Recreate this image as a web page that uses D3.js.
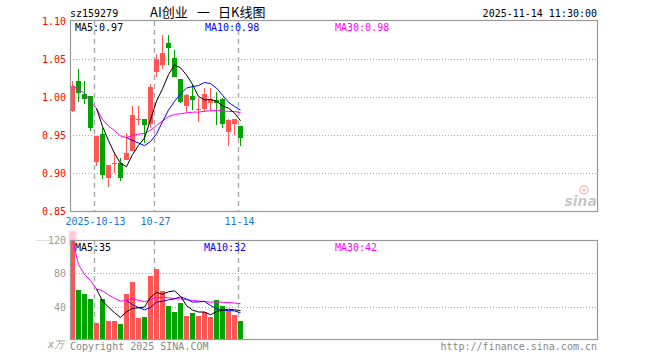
<!DOCTYPE html>
<html><head><meta charset="utf-8">
<script src="https://cdn.jsdelivr.net/npm/d3@7"></script>
<style>
html,body{margin:0;padding:0;background:#fff;}
svg{display:block;}
text{font-family:"DejaVu Sans Mono","Liberation Mono",monospace;font-size:10px;}
</style></head>
<body><svg id="c" width="660" height="360"></svg>
<script>
// ---- data ----
const dates = ["09-29","09-30","10-09","10-10","10-13","10-14","10-15","10-16","10-17","10-20",
  "10-21","10-22","10-23","10-24","10-27","10-28","10-29","10-30","10-31","11-03",
  "11-04","11-05","11-06","11-07","11-10","11-11","11-12","11-13","11-14"];
const openP  = [0.982,1.021,1.004,1.002,0.915,0.952,0.894,0.912,0.914,0.918,0.930,0.970,0.971,0.965,1.033,1.042,1.071,1.051,1.024,0.989,1.002,0.983,0.985,0.992,0.996,0.997,0.954,0.965,0.962];
const highP  = [1.021,1.037,1.021,1.002,0.949,0.959,0.911,0.928,0.920,0.953,0.989,0.989,0.971,1.017,1.057,1.082,1.081,1.062,1.024,1.004,1.017,0.999,1.012,1.012,1.007,0.999,0.972,0.972,0.962];
const lowP   = [0.980,0.994,0.991,0.955,0.910,0.893,0.882,0.900,0.890,0.918,0.930,0.964,0.940,0.959,1.026,1.037,1.042,1.026,0.993,0.979,0.983,0.967,0.981,0.982,0.963,0.960,0.936,0.950,0.936];
const closeP = [1.015,1.005,0.997,0.960,0.949,0.898,0.911,0.914,0.894,0.927,0.977,0.971,0.963,1.013,1.050,1.058,1.064,1.027,0.994,1.003,0.996,0.985,1.004,0.997,0.992,0.965,0.970,0.972,0.947];
const volume = [121,60,55.2,49.2,20.4,49.2,22.8,22.8,19.2,55.2,69.6,26.4,27.6,76.8,85.2,58.8,40.8,33.6,44.4,28.8,32.4,28.8,33.6,27.6,48,40.8,34.8,30,22.8];
const priceTicks = [1.10,1.05,1.00,0.95,0.90,0.85];
const volTicks = [120,80,40];
const dateTicks = ["10-13","10-27","11-14"];
const dateTickLabels = ["2025-10-13","10-27","11-14"];
const code = "sz159279";
const titleParts = ["AI创业", "一", "日K线图"];
const stamp = "2025-11-14 11:30:00";
const priceLegend = ["MA5:0.97","MA10:0.98","MA30:0.98"];
const volLegend = ["MA5:35","MA10:32","MA30:42"];
const volUnit = "x万";

// ---- helpers ----
function ma(arr, n){ return arr.map((d,i)=> i < n-1 ? null : d3.mean(arr.slice(i-n+1,i+1))); }
function cma(arr, n){ return arr.map((d,i)=> d3.mean(arr.slice(Math.max(0,i-n+1),i+1))); }

const svg = d3.select("#c");
const L = 70, R = 597;
const RED = "#ff5555", GREEN = "#00a400", GRID = "#a8a8a8", FRAME = "#999";
const MAC = ["#000","#0000ff","#ff00ff"];

const x = d3.scaleLinear().domain([0, 1]).range([72.5, 78.5]); // candle center per index
const idx = d => dates.indexOf(d);

const yP = d3.scaleLinear().domain([0.85, 1.10]).range([211.5, 21]);
const yV = d3.scaleLinear().domain([0, 120]).range([340, 240]);

svg.append("defs").html(`
 <clipPath id="cp1"><rect x="${L}" y="21" width="${R-L}" height="191"/></clipPath>
 <clipPath id="cp2"><rect x="${L}" y="240" width="${R-L}" height="100"/></clipPath>
 <filter id="bl"><feGaussianBlur stdDeviation="1.5"/></filter>`);

// ---- top texts ----
svg.append("text").attr("x", L).attr("y", 17).attr("fill", "#000").text(code);
const tx = [150, 197, 218];
titleParts.forEach((t, k) => svg.append("text").attr("x", tx[k]).attr("y", 16.5).attr("fill", "#000")
  .style("font-family", '"Noto Sans CJK SC",sans-serif').style("font-size", "13px").text(t));
svg.append("text").attr("x", R).attr("y", 17).attr("text-anchor", "end").attr("fill", "#000").text(stamp);

// ---- price panel ----
const gP = svg.append("g");
gP.selectAll(".hg").data(priceTicks.filter(t => t < 1.09 && t > 0.86)).enter().append("line")
  .attr("x1", L).attr("x2", R).attr("y1", d => Math.round(yP(d)) + 0.5).attr("y2", d => Math.round(yP(d)) + 0.5)
  .attr("stroke", GRID).attr("stroke-dasharray", "1,2");
gP.selectAll(".vg").data(dateTicks).enter().append("line")
  .attr("x1", d => x(idx(d)) - 2).attr("x2", d => x(idx(d)) - 2).attr("y1", 21).attr("y2", 211)
  .attr("stroke", GRID).attr("stroke-width", 1.4).attr("stroke-dasharray", "5,4");
gP.selectAll(".yl").data(priceTicks).enter().append("text")
  .attr("x", 66).attr("y", d => yP(d) + 3.5).attr("text-anchor", "end").attr("fill", "#ff0000")
  .text(d => d.toFixed(2));
gP.selectAll(".xl").data(dateTicks).enter().append("text")
  .attr("x", d => x(idx(d)) - 1).attr("y", 225).attr("text-anchor", "middle").attr("fill", "#1478d2")
  .text((d, i) => dateTickLabels[i]);

// candles
const cg = gP.append("g").attr("clip-path", "url(#cp1)").attr("shape-rendering", "crispEdges");
const cd = dates.map((d, i) => ({i, o: openP[i], h: highP[i], l: lowP[i], c: closeP[i]}));
cg.selectAll(".wk").data(cd).enter().append("line")
  .attr("x1", d => x(d.i)).attr("x2", d => x(d.i))
  .attr("y1", d => yP(d.h)).attr("y2", d => yP(d.l))
  .attr("stroke", d => d.c >= d.o ? RED : GREEN);
cg.selectAll(".bd").data(cd).enter().append("rect")
  .attr("x", d => x(d.i) - 2.5).attr("width", 5)
  .attr("y", d => yP(Math.max(d.o, d.c)))
  .attr("height", d => Math.max(1, Math.abs(yP(d.o) - yP(d.c))))
  .attr("fill", d => d.c >= d.o ? RED : GREEN);

// MA lines (price)
const pMAs = [ma(closeP, 5), ma(closeP, 10), cma(closeP, 30)];
const lineP = d3.line().defined(d => d != null).x((d, i) => x(i)).y(d => yP(d));
const mg = gP.append("g").attr("clip-path", "url(#cp1)");
[2, 1, 0].forEach(k => mg.append("path").attr("d", lineP(pMAs[k])).attr("fill", "none")
  .attr("stroke", MAC[k]).attr("stroke-width", 1));

gP.append("rect").attr("x", L + 0.5).attr("y", 20.5).attr("width", R - L).attr("height", 191)
  .attr("fill", "none").attr("stroke", FRAME).attr("stroke-width", 1.2);

const lx = [75, 205, 335];
priceLegend.forEach((t, k) => svg.append("text").attr("x", lx[k]).attr("y", 30.5).attr("fill", MAC[k]).text(t));

// sina logo
const logo = svg.append("g").attr("opacity", 0.55);
logo.append("circle").attr("cx", 584).attr("cy", 190).attr("r", 4).attr("fill", "none").attr("stroke", "#f08080").attr("stroke-width", 1.5);
logo.append("circle").attr("cx", 584).attr("cy", 190).attr("r", 1.5).attr("fill", "#f08080");
logo.append("text").attr("x", 597).attr("y", 206).attr("text-anchor", "end")
  .style("font-family", '"DejaVu Sans",sans-serif').style("font-size", "14px").style("font-weight", "bold")
  .style("font-style", "italic").attr("fill", "#999").text("sina");

// ---- volume panel ----
const gV = svg.append("g");
gV.selectAll(".hg").data([80, 40]).enter().append("line")
  .attr("x1", L).attr("x2", R).attr("y1", d => Math.round(yV(d)) + 0.5).attr("y2", d => Math.round(yV(d)) + 0.5)
  .attr("stroke", GRID).attr("stroke-dasharray", "1,2");
gV.selectAll(".vg").data(dateTicks).enter().append("line")
  .attr("x1", d => x(idx(d)) - 2).attr("x2", d => x(idx(d)) - 2).attr("y1", 240).attr("y2", 339)
  .attr("stroke", GRID).attr("stroke-width", 1.4).attr("stroke-dasharray", "5,4");
gV.append("line").attr("x1", 36).attr("x2", 50).attr("y1", 240.5).attr("y2", 240.5).attr("stroke", "#ddd");
gV.selectAll(".yl").data(volTicks).enter().append("text")
  .attr("x", 66).attr("y", d => yV(d) + 4).attr("text-anchor", "end").attr("fill", "#999")
  .text(d => d);
gV.append("text").attr("x", 64).attr("y", 348).attr("text-anchor", "end").attr("fill", "#999")
  .style("font-style", "italic").text(volUnit);

gV.append("rect").attr("x", 69).attr("y", 231).attr("width", 7).attr("height", 14)
  .attr("fill", "#ff99bb").attr("opacity", 0.6).attr("filter", "url(#bl)");

const vg = gV.append("g").attr("clip-path", "url(#cp2)").attr("shape-rendering", "crispEdges");
vg.selectAll(".vb").data(volume).enter().append("rect")
  .attr("x", (d, i) => x(i) - 2.5).attr("width", 5)
  .attr("y", d => yV(d)).attr("height", d => yV(0) - yV(d))
  .attr("fill", (d, i) => closeP[i] >= openP[i] ? RED : GREEN);

const vMAs = [ma(volume, 5), ma(volume, 10), cma(volume, 30)];
const lineV = d3.line().defined(d => d != null).x((d, i) => x(i)).y(d => yV(d));
const mv = gV.append("g").attr("clip-path", "url(#cp2)");
[2, 1, 0].forEach(k => mv.append("path").attr("d", lineV(vMAs[k])).attr("fill", "none")
  .attr("stroke", MAC[k]).attr("stroke-width", 1));

gV.append("rect").attr("x", L + 0.5).attr("y", 240.5).attr("width", R - L).attr("height", 99)
  .attr("fill", "none").attr("stroke", FRAME).attr("stroke-width", 1.2);

volLegend.forEach((t, k) => svg.append("text").attr("x", lx[k] - (k === 1 ? 1 : 0)).attr("y", 250.5).attr("fill", MAC[k]).text(t));

svg.append("text").attr("x", L).attr("y", 350).attr("fill", "#888").text("Copyright 2025 SINA.COM");
svg.append("text").attr("x", R).attr("y", 350).attr("text-anchor", "end").attr("fill", "#888").text("http://finance.sina.com.cn");
</script></body></html>
